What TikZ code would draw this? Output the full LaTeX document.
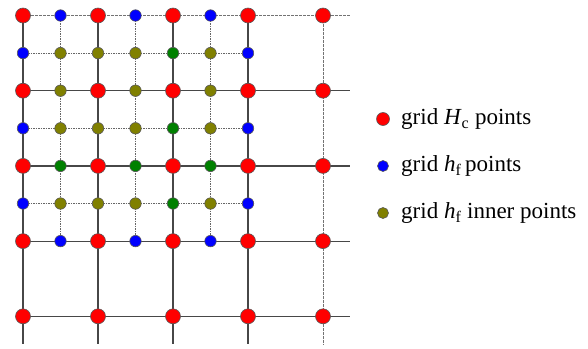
\documentclass[tikz,border=0pt]{standalone}
\usepackage{fontspec}
\setmainfont{Liberation Serif}
\definecolor{redpt}{RGB}{255,0,0}
\definecolor{bluept}{RGB}{0,0,255}
\definecolor{olivept}{RGB}{128,128,0}
\definecolor{greenpt}{RGB}{0,128,0}
\begin{document}
\begin{tikzpicture}[x=1pt,y=-1pt,
  dot/.style={circle,draw=black!65,line width=0.6pt,inner sep=0pt},
  cpt/.style={dot,fill=redpt,minimum size=15pt},
  fpt/.style={dot,fill=bluept,minimum size=11.5pt},
  ipt/.style={dot,fill=olivept,minimum size=11.5pt},
  gpt/.style={dot,fill=greenpt,minimum size=11.5pt},
  coarse/.style={draw=black!72,line width=1.2pt},
  coarselight/.style={draw=black!55,line width=1pt,dash pattern=on 3pt off 1pt},
  fine/.style={draw=black!60,line width=1pt,dash pattern=on 1.5pt off 1pt},
  legtext/.style={anchor=west,inner sep=0pt,font=\fontsize{23}{27}\selectfont}]
\useasboundingbox (0,0) rectangle (588,348);
% grid positions
\foreach \i/\x in {0/23,1/60.5,2/98,3/135.5,4/173,5/210.5,6/248,7/323}{
  \foreach \j/\y in {0/15.5,1/53.1,2/90.7,3/128.3,4/165.9,5/203.5,6/241.1,7/316.3}{
    \coordinate (g-\i-\j) at (\x,\y);
  }
  \coordinate (ce-\i) at (\x,344);
}
\foreach \j/\y in {0/15.5,1/53.1,2/90.7,3/128.3,4/165.9,5/203.5,6/241.1,7/316.3}{
  \coordinate (re-\j) at (350,\y);
}
% fine dotted lines
\foreach \k in {1,3,5}{
  \draw[fine] (g-0-\k) -- (g-6-\k);
  \draw[fine] (g-\k-0) -- (g-\k-6);
}
% coarse lines
\draw[coarselight] (g-0-0) -- (re-0);
\foreach \k in {2,4,6,7}{
  \draw[coarse] (g-0-\k) -- (re-\k);
}
\foreach \k in {0,2,4,6}{
  \draw[coarse] (g-\k-0) -- (ce-\k);
}
\draw[coarselight] (g-7-0) -- (ce-7);
% coarse (red) points
\foreach \i in {0,2,4,6,7}{
  \foreach \j in {0,2,4,6,7}{
    \node[cpt] (p-\i-\j) at (g-\i-\j) {};
  }
}
% fine boundary (blue) points
\foreach \i/\j in {1/0,3/0,5/0,1/6,3/6,5/6,0/1,0/3,0/5,6/1,6/3,6/5}{
  \node[fpt] (p-\i-\j) at (g-\i-\j) {};
}
% green points
\foreach \i/\j in {4/1,4/3,4/5,1/4,3/4,5/4}{
  \node[gpt] (p-\i-\j) at (g-\i-\j) {};
}
% olive inner points
\foreach \i/\j in {1/1,3/1,5/1,1/3,3/3,5/3,1/5,3/5,5/5,2/1,2/3,2/5,1/2,3/2,5/2}{
  \node[ipt] (p-\i-\j) at (g-\i-\j) {};
}
% legend
\node[cpt,minimum size=13pt] (lc) at (383,119) {};
\node[fpt,minimum size=11pt] (lf) at (383,166) {};
\node[ipt,minimum size=11pt] (li) at (383,213) {};
\node[legtext] (tc) at (401,119) {grid \textit{H}\textsubscript{c} points};
\node[legtext] (tf) at (401,166) {grid \textit{h}\textsubscript{f}\,points};
\node[legtext] (ti) at (401,213) {grid \textit{h}\textsubscript{f} inner points};
\end{tikzpicture}
\end{document}
